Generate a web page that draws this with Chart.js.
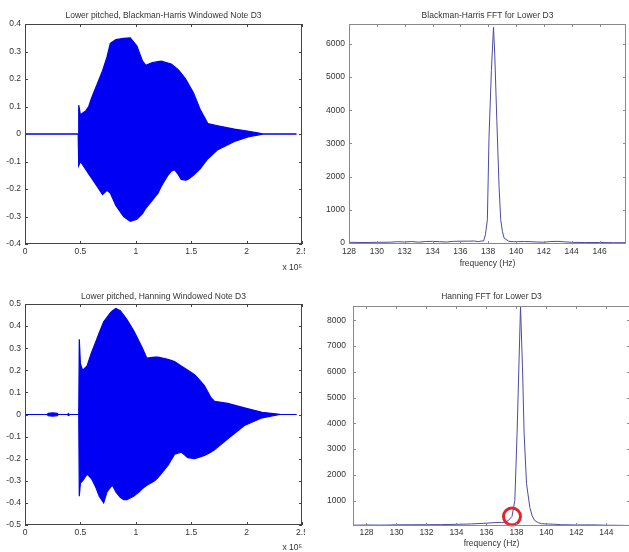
<!DOCTYPE html>
<html>
<head>
<meta charset="utf-8">
<script src="https://cdn.jsdelivr.net/npm/chart.js@4.4.0/dist/chart.umd.min.js"></script>
<style>
body { margin:0; background:#fff; overflow:hidden; width:629px; height:552px; position:relative; }
canvas { position:absolute; background:#fff; }
</style>
</head>
<body>
<canvas id="bhWave" width="316" height="280" style="left:0;top:0"></canvas>
<canvas id="bhFft" width="324" height="280" style="left:305px;top:0"></canvas>
<canvas id="hnWave" width="316" height="272" style="left:0;top:280px"></canvas>
<canvas id="hnFft" width="325" height="272" style="left:305px;top:280px"></canvas>
<script>
// ---- Blackman-Harris windowed note (envelope of the waveform, x in units of 1e5 samples)
const bhX     = [0, 0.48, 0.485, 0.5, 0.55, 0.575, 0.6, 0.65, 0.7, 0.74, 0.77, 0.82, 0.89, 0.95, 1.01, 1.06, 1.09, 1.15, 1.2, 1.23, 1.29, 1.32, 1.35, 1.38, 1.41, 1.45, 1.47, 1.52, 1.58, 1.65, 1.74, 1.89, 2.02, 2.1, 2.15, 2.45];
const bhUpper = [0, 0, 0.105, 0.07, 0.085, 0.1, 0.13, 0.18, 0.23, 0.28, 0.33, 0.343, 0.348, 0.35, 0.32, 0.266, 0.25, 0.26, 0.263, 0.265, 0.258, 0.254, 0.245, 0.235, 0.22, 0.2, 0.185, 0.15, 0.09, 0.038, 0.03, 0.018, 0.01, 0.004, 0, 0];
const bhLower = [0, 0, -0.115, -0.1, -0.13, -0.145, -0.16, -0.19, -0.22, -0.205, -0.215, -0.26, -0.3, -0.318, -0.31, -0.29, -0.27, -0.24, -0.215, -0.19, -0.15, -0.135, -0.13, -0.145, -0.165, -0.168, -0.165, -0.15, -0.127, -0.09, -0.057, -0.027, -0.01, -0.004, 0, 0];

// ---- Hanning windowed note
const hnX     = [0, 0.2, 0.21, 0.25, 0.29, 0.3, 0.385, 0.39, 0.395, 0.485, 0.49, 0.5, 0.52, 0.56, 0.6, 0.64, 0.67, 0.71, 0.74, 0.77, 0.79, 0.82, 0.86, 0.89, 0.92, 0.98, 1.03, 1.06, 1.1, 1.17, 1.2, 1.29, 1.35, 1.41, 1.47, 1.53, 1.56, 1.62, 1.68, 1.71, 1.83, 1.98, 2.14, 2.3, 2.45];
const hnUpper = [0, 0, 0.005, 0.007, 0.005, 0, 0, 0.004, 0, 0, 0.34, 0.23, 0.2, 0.22, 0.28, 0.33, 0.37, 0.42, 0.44, 0.46, 0.47, 0.48, 0.47, 0.45, 0.43, 0.38, 0.33, 0.3, 0.255, 0.26, 0.26, 0.25, 0.24, 0.22, 0.2, 0.18, 0.165, 0.13, 0.075, 0.06, 0.05, 0.03, 0.01, 0.001, 0];
const hnLower = [0, 0, -0.005, -0.007, -0.005, 0, 0, -0.004, 0, 0, -0.37, -0.31, -0.3, -0.27, -0.29, -0.33, -0.37, -0.4, -0.35, -0.33, -0.32, -0.35, -0.375, -0.385, -0.385, -0.37, -0.35, -0.335, -0.32, -0.3, -0.285, -0.23, -0.18, -0.17, -0.195, -0.2, -0.195, -0.185, -0.17, -0.16, -0.11, -0.05, -0.015, 0, 0];

// ---- FFT magnitudes (Hz)
const trFreq = [128, 129, 130, 131, 131.5, 132, 132.5, 133, 133.5, 134, 134.5, 135, 135.5, 136, 136.5, 137, 137.3, 137.5, 137.67, 137.8, 137.94, 138.06, 138.23, 138.38, 138.47, 138.62, 138.78, 138.9, 139.02, 139.14, 139.49, 139.8, 140.2, 140.6, 141, 141.5, 142, 142.5, 143, 143.5, 144, 145, 146, 147, 147.9];
const trMag  = [20, 15, 20, 25, 40, 30, 45, 25, 45, 50, 40, 30, 50, 55, 55, 60, 40, 60, 60, 250, 700, 3200, 5200, 6500, 5700, 3700, 1700, 700, 350, 150, 50, 40, 40, 45, 40, 30, 25, 45, 50, 35, 20, 15, 15, 10, 10];

const brFreq = [127.1, 128, 129, 130, 131, 132, 133, 134, 135, 136, 136.5, 137, 137.2, 137.45, 137.7, 137.89, 138.04, 138.27, 138.4, 138.51, 138.67, 138.89, 139.05, 139.22, 139.45, 139.67, 140, 140.5, 141, 142, 143, 144, 145, 145.6];
const brMag  = [40, 50, 45, 55, 60, 60, 65, 75, 90, 120, 140, 150, 150, 220, 380, 1000, 3600, 8550, 6200, 3600, 1660, 730, 400, 220, 140, 100, 90, 80, 60, 50, 55, 40, 35, 30];

// red ring drawn on the Hanning FFT
const markHz  = [137.7];
const markMag = [380];

// ---- tick values
const waveXTicks = [0, 0.5, 1, 1.5, 2, 2.5];
const bhYTicks   = [-0.4, -0.3, -0.2, -0.1, 0, 0.1, 0.2, 0.3, 0.4];
const hnYTicks   = [-0.5, -0.4, -0.3, -0.2, -0.1, 0, 0.1, 0.2, 0.3, 0.4, 0.5];
const trXTicks   = [128, 130, 132, 134, 136, 138, 140, 142, 144, 146];
const trYTicks   = [0, 1000, 2000, 3000, 4000, 5000, 6000];
const brXTicks   = [128, 130, 132, 134, 136, 138, 140, 142, 144];
const brYTicks   = [1000, 2000, 3000, 4000, 5000, 6000, 7000, 8000];

const BLUE = '#0000f4';
const FFT_LINE = '#4b4ba6';
const TXT = '#333';
const FONT = { family: '"Liberation Sans", Arial, sans-serif', size: 8.5, weight: 'normal', lineHeight: 1 };

function pts(xs, ys) { return xs.map((x, i) => ({ x: x, y: ys[i] })); }

// matlab style box with inward ticks on all four sides
const boxPlugin = {
  id: 'box',
  afterDatasetsDraw(chart, args, opts) {
    const ctx = chart.ctx, a = chart.chartArea, sx = chart.scales.x, sy = chart.scales.y;
    ctx.save();
    ctx.strokeStyle = opts.color;
    ctx.lineWidth = 1;
    ctx.strokeRect(Math.round(a.left) + 0.5, Math.round(a.top) + 0.5, Math.round(a.right - a.left) - 1, Math.round(a.bottom - a.top) - 1);
    ctx.beginPath();
    sx.ticks.forEach(t => {
      const p = Math.round(sx.getPixelForValue(t.value)) + 0.5;
      ctx.moveTo(p, a.bottom); ctx.lineTo(p, a.bottom - 3);
      ctx.moveTo(p, a.top); ctx.lineTo(p, a.top + 3);
    });
    sy.ticks.forEach(t => {
      const p = Math.round(sy.getPixelForValue(t.value)) + 0.5;
      ctx.moveTo(a.left, p); ctx.lineTo(a.left + 3, p);
      ctx.moveTo(a.right, p); ctx.lineTo(a.right - 3, p);
    });
    ctx.stroke();
    ctx.restore();
  }
};

function makeChart(id, c) {
  new Chart(document.getElementById(id), {
    type: 'line',
    data: { datasets: c.datasets },
    options: {
      responsive: false,
      animation: false,
      devicePixelRatio: 1,
      layout: { padding: c.pad, autoPadding: false },
      plugins: {
        legend: { display: false },
        tooltip: { enabled: false },
        title: { display: true, text: c.title, fullSize: false, color: TXT, font: FONT, padding: c.titlePad },
        box: { color: c.boxColor }
      },
      scales: {
        x: {
          type: 'linear', min: c.xMin, max: c.xMax,
          grid: { display: false, drawTicks: false },
          border: { display: false },
          afterBuildTicks: s => { s.ticks = c.xTicks.map(v => ({ value: v })); },
          afterFit: s => { s.height = c.xHeight; s.paddingLeft = 0; s.paddingRight = 0; },
          ticks: { autoSkip: false, maxRotation: 0, padding: c.xTickPad, color: TXT, font: FONT, callback: v => String(v) },
          title: { display: true, text: c.xTitle, align: c.xTitleAlign, color: TXT, font: FONT, padding: { top: 0, bottom: c.xTitlePad } }
        },
        y: {
          type: 'linear', min: c.yMin, max: c.yMax,
          grid: { display: false, drawTicks: false },
          border: { display: false },
          afterBuildTicks: s => { s.ticks = c.yTicks.map(v => ({ value: v })); },
          afterFit: s => { s.width = c.yWidth; s.paddingTop = 0; s.paddingBottom = 0; },
          ticks: { autoSkip: false, padding: c.yTickPad, color: TXT, font: FONT, callback: v => String(v) }
        }
      }
    },
    plugins: [boxPlugin]
  });
}

function waveSets(xs, up, lo) {
  return [
    { data: pts(xs, up), borderColor: BLUE, backgroundColor: BLUE, borderWidth: 1.2, pointRadius: 0, tension: 0, fill: 1 },
    { data: pts(xs, lo), borderColor: BLUE, borderWidth: 1.2, pointRadius: 0, tension: 0, fill: false }
  ];
}

makeChart('bhWave', {
  title: 'Lower pitched, Blackman-Harris Windowed Note D3',
  datasets: waveSets(bhX, bhUpper, bhLower),
  pad: { left: 0, right: 14, top: 0, bottom: 0 },
  titlePad: { top: 11.5, bottom: 4 },
  xMin: 0, xMax: 2.5, xTicks: waveXTicks, xHeight: 36, xTickPad: 3,
  xTitle: 'x 10\u2075', xTitleAlign: 'end', xTitlePad: 8.5,
  yMin: -0.4, yMax: 0.4, yTicks: bhYTicks, yWidth: 25, yTickPad: 4,
  boxColor: '#444'
});

makeChart('bhFft', {
  title: 'Blackman-Harris FFT for Lower D3',
  datasets: [{ data: pts(trFreq, trMag), borderColor: FFT_LINE, borderWidth: 1, pointRadius: 0, tension: 0, fill: false }],
  pad: { left: 0, right: 3, top: 0, bottom: 0 },
  titlePad: { top: 11, bottom: 4.5 },
  xMin: 128, xMax: 147.9, xTicks: trXTicks, xHeight: 36, xTickPad: 3,
  xTitle: 'frequency (Hz)', xTitleAlign: 'center', xTitlePad: 12.5,
  yMin: -30, yMax: 6600, yTicks: trYTicks, yWidth: 44, yTickPad: 4,
  boxColor: '#8a8a8a'
});

makeChart('hnWave', {
  title: 'Lower pitched, Hanning Windowed Note D3',
  datasets: waveSets(hnX, hnUpper, hnLower),
  pad: { left: 0, right: 14, top: 0, bottom: 0 },
  titlePad: { top: 12, bottom: 3.5 },
  xMin: 0, xMax: 2.5, xTicks: waveXTicks, xHeight: 27, xTickPad: 3,
  xTitle: 'x 10\u2075', xTitleAlign: 'end', xTitlePad: 0.5,
  yMin: -0.5, yMax: 0.5, yTicks: hnYTicks, yWidth: 25, yTickPad: 4,
  boxColor: '#444'
});

makeChart('hnFft', {
  title: 'Hanning FFT for Lower D3',
  datasets: [
    { data: pts(markHz, markMag), showLine: false, pointRadius: 8.5, pointBorderWidth: 3, pointBorderColor: '#e3242b', pointBackgroundColor: 'rgba(0,0,0,0)', clip: false },
    { data: pts(brFreq, brMag), borderColor: FFT_LINE, borderWidth: 1, pointRadius: 0, tension: 0, fill: false }
  ],
  pad: { left: 0, right: 0, top: 0, bottom: 0 },
  titlePad: { top: 12.5, bottom: 5 },
  xMin: 127.1, xMax: 145.57, xTicks: brXTicks, xHeight: 26, xTickPad: 2,
  xTitle: 'frequency (Hz)', xTitleAlign: 'center', xTitlePad: 4.5,
  yMin: 10, yMax: 8560, yTicks: brYTicks, yWidth: 48, yTickPad: 7,
  boxColor: '#8a8a8a'
});
</script>
</body>
</html>
